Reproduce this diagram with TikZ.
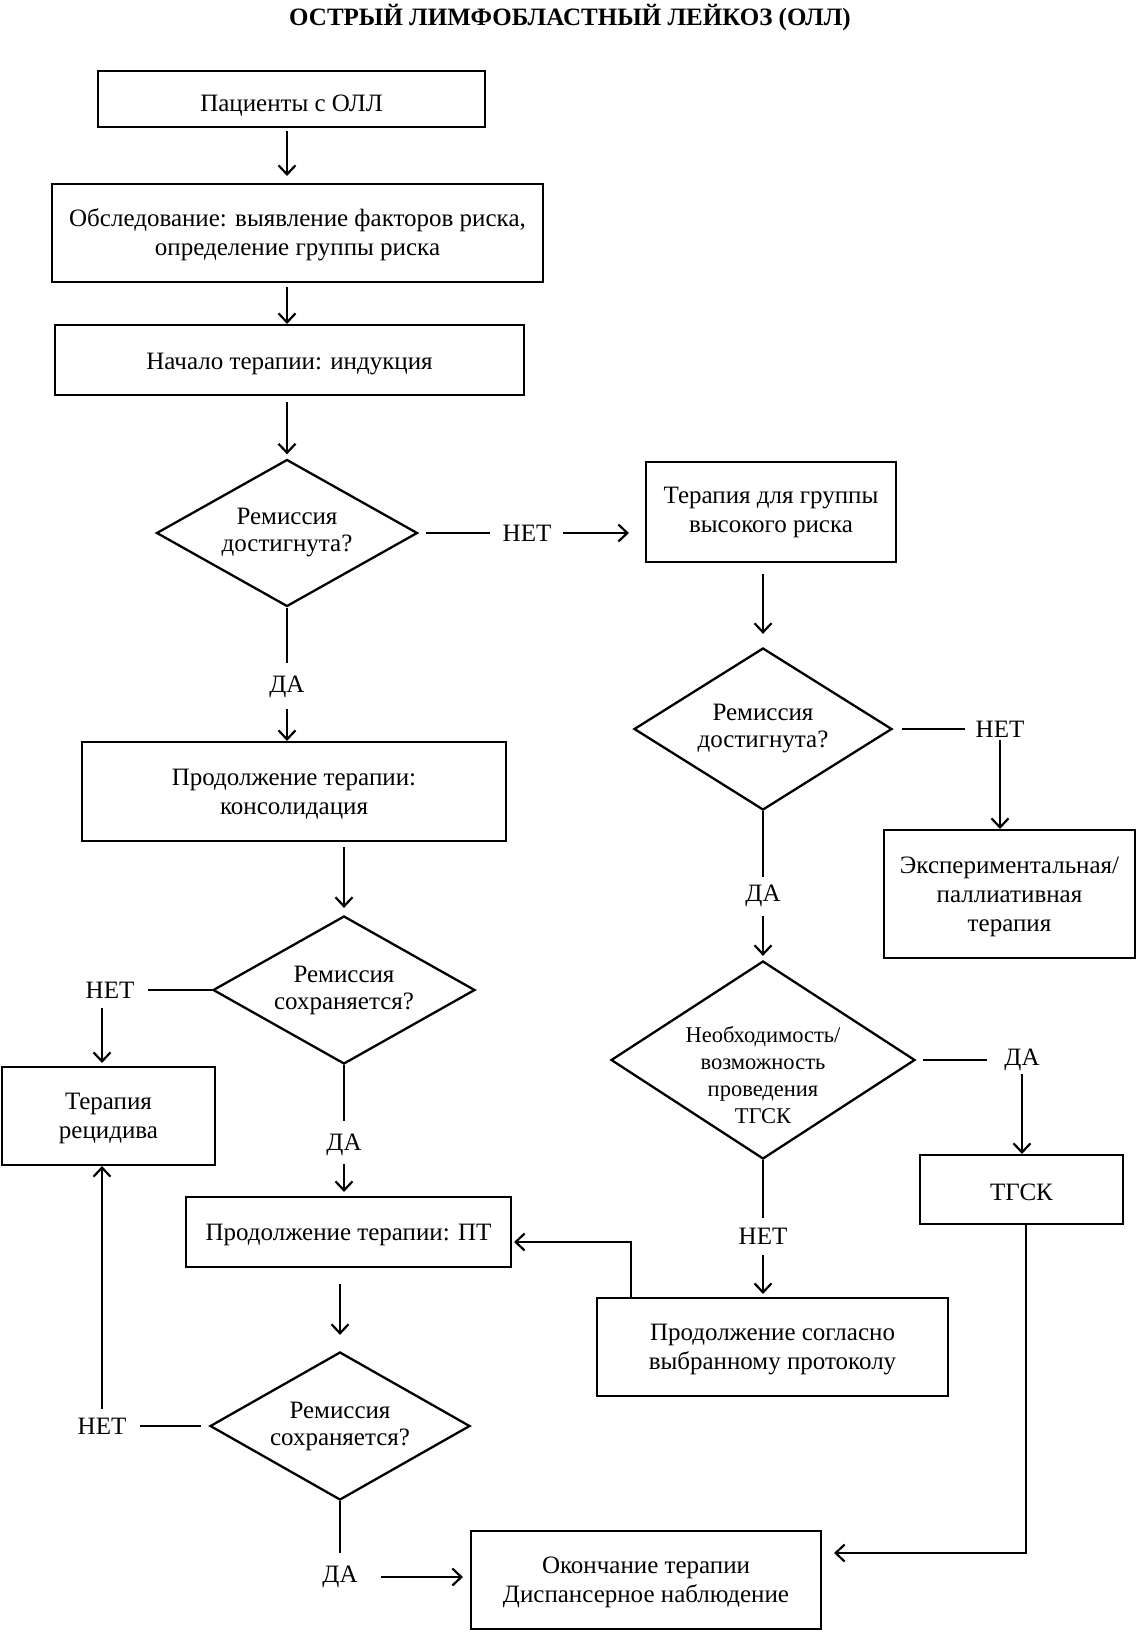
\documentclass[tikz,border=0pt]{standalone}
\usepackage{fontspec}
\setmainfont{Liberation Serif}
\usetikzlibrary{shapes.geometric,arrows.meta}

\begin{document}
\begin{tikzpicture}[
        x=1pt, y=-1pt,
        font=\fontsize{25}{29}\selectfont,
        every node/.style={align=center},
        size/.style 2 args={minimum width=#1pt, minimum height=#2pt},
        stage/.style={draw, line width=2.1pt, rectangle, inner sep=0pt},
        query/.style={draw, line width=2.3pt, diamond, aspect=1.6, inner sep=-4pt,
            font=\fontsize{25}{27}\selectfont},
        answer/.style={inner xsep=11pt, inner ysep=3pt},
        link/.style={line width=2.2pt},
        flow/.style={link, -{Straight Barb[length=9pt, width=17pt, line width=2.2pt]}}
    ]
    \useasboundingbox (0,0) rectangle (1138,1633);

    \node[font=\fontsize{25}{29}\selectfont\bfseries] (title) at (570,18) {ОСТРЫЙ ЛИМФОБЛАСТНЫЙ ЛЕЙКОЗ (ОЛЛ)};

    % main column
    \node[stage, size={387}{56}] (patients) at (291.5,99) {\rule{0pt}{30pt}Пациенты с ОЛЛ};
    \node[stage, size={491}{98}] (exam) at (297.5,233) {\rule{0pt}{22pt}Обследование: выявление факторов риска,\\определение группы риска};
    \node[stage, size={469}{70}] (induction) at (289.5,360) {\rule{0pt}{24pt}Начало терапии: индукция};
    \node[query, size={261}{147}] (rem1) at (287,533) {Ремиссия\\достигнута?};
    \node[stage, size={424}{99}] (consol) at (294,791.5) {\rule{0pt}{22pt}Продолжение терапии:\\консолидация};
    \node[query, size={262}{148}] (rem3) at (344,990) {Ремиссия\\сохраняется?};
    \node[stage, size={213}{98}] (relapse) at (108.5,1116) {\rule{0pt}{22pt}Терапия\\рецидива};
    \node[stage, size={325}{70}] (maint) at (348.5,1232) {\rule{0pt}{22pt}Продолжение терапии: ПТ};
    \node[query, size={260}{148}] (rem4) at (340,1426) {Ремиссия\\сохраняется?};
    \node[stage, size={350}{98}] (finish) at (646,1580) {\rule{0pt}{22pt}Окончание терапии\\Диспансерное наблюдение};

    % high risk column
    \node[stage, size={250}{100}] (highrisk) at (771,512) {Терапия для группы\\высокого риска};
    \node[query, size={258}{162}] (rem2) at (763,729) {Ремиссия\\достигнута?};
    \node[stage, size={251}{128}] (palliative) at (1009.5,894) {\rule{0pt}{22pt}Экспериментальная/\\паллиативная\\терапия};
    \node[query, size={304}{198}, inner sep=-12pt, font=\fontsize{22.5}{27}\selectfont] (hsct) at (763,1060)
        {\rule{0pt}{46pt}Необходимость/\\возможность\\проведения\\ТГСК};
    \node[stage, size={203}{69}] (hsctbox) at (1021.5,1189.5) {\rule{0pt}{22pt}ТГСК};
    \node[stage, size={351}{98}] (protocol) at (772.5,1347) {\rule{0pt}{22pt}Продолжение согласно\\выбранному протоколу};

    % answers
    \node[answer] (no1) at (527,533) {НЕТ};
    \node[answer] (no2) at (1000,729) {НЕТ};
    \node[answer] (no3) at (763,1236) {НЕТ};
    \node[answer] (no4) at (110,990) {НЕТ};
    \node[answer] (no5) at (102,1426) {НЕТ};
    \node[answer] (yes1) at (287,687) {ДА};
    \node[answer] (yes2) at (763,896) {ДА};
    \node[answer] (yes3) at (1022,1060) {ДА};
    \node[answer] (yes4) at (344,1145) {ДА};
    \node[answer] (yes5) at (340,1577) {ДА};

    \coordinate (lane) at (102,0);
    \coordinate (turn1) at (631,1242);
    \coordinate (turn2) at (1026,1553);

    \draw[flow, shorten <=3pt, shorten >=7pt] (patients.south -| rem1) -- (exam.north -| rem1);
    \draw[flow, shorten <=4pt] (exam.south -| rem1) -- (induction.north -| rem1);
    \draw[flow, shorten <=6pt, shorten >=4pt] (induction.south -| rem1) -- (rem1.north);
    \draw[link, shorten <=7pt, shorten >=2pt] (rem1.east) -- (no1.west);
    \draw[flow, shorten >=16pt] (no1.east) -- (highrisk.west |- no1);
    \draw[link, shorten >=10pt] (rem1.south) -- (yes1.north);
    \draw[flow, shorten <=8pt] (yes1.south) -- (consol.north -| yes1);
    \draw[flow, shorten <=5pt, shorten >=7pt] (consol.south -| rem3) -- (rem3.north);
    \draw[link, shorten >=3pt] (rem3.west) -- (no4.east);
    \draw[flow, shorten <=7pt, shorten >=3pt] (no4.south -| lane) -- (relapse.north -| lane);
    \draw[link, shorten >=10pt] (rem3.south) -- (yes4.north);
    \draw[flow, shorten <=5pt, shorten >=4pt] (yes4.south) -- (maint.north -| yes4);
    \draw[flow, shorten <=16pt, shorten >=16pt] (maint.south -| rem4) -- (rem4.north);
    \draw[link, shorten <=8pt, shorten >=3pt] (rem4.west) -- (no5.east);
    \draw[flow, shorten <=6pt] (no5.north -| lane) -- (relapse.south -| lane);
    \draw[link, shorten >=10pt] (rem4.south) -- (yes5.north);
    \draw[flow, shorten <=12pt, shorten >=7pt] (yes5.east) -- (finish.west |- yes5);

    \draw[flow, shorten <=11pt, shorten >=13pt] (highrisk.south -| rem2) -- (rem2.north);
    \draw[link, shorten <=9pt] (rem2.east) -- (no2.west);
    \draw[flow] (no2.south) -- (palliative.north -| no2);
    \draw[link, shorten >=5pt] (rem2.south) -- (yes2.north);
    \draw[flow, shorten <=6pt, shorten >=4pt] (yes2.south) -- (hsct.north);
    \draw[link, shorten <=7pt, shorten >=6pt] (hsct.east) -- (yes3.west);
    \draw[flow] (yes3.south) -- (hsctbox.north -| yes3);
    \draw[link, shorten >=7pt] (hsct.south) -- (no3.north);
    \draw[flow, shorten <=8pt, shorten >=3pt] (no3.south) -- (protocol.north -| no3);
    \draw[flow, shorten >=2pt] (protocol.north -| turn1) -- (turn1) -- (maint.east |- turn1);
    \draw[flow, shorten >=12pt] (hsctbox.south -| turn2) -- (turn2) -- (finish.east |- turn2);
\end{tikzpicture}
\end{document}
